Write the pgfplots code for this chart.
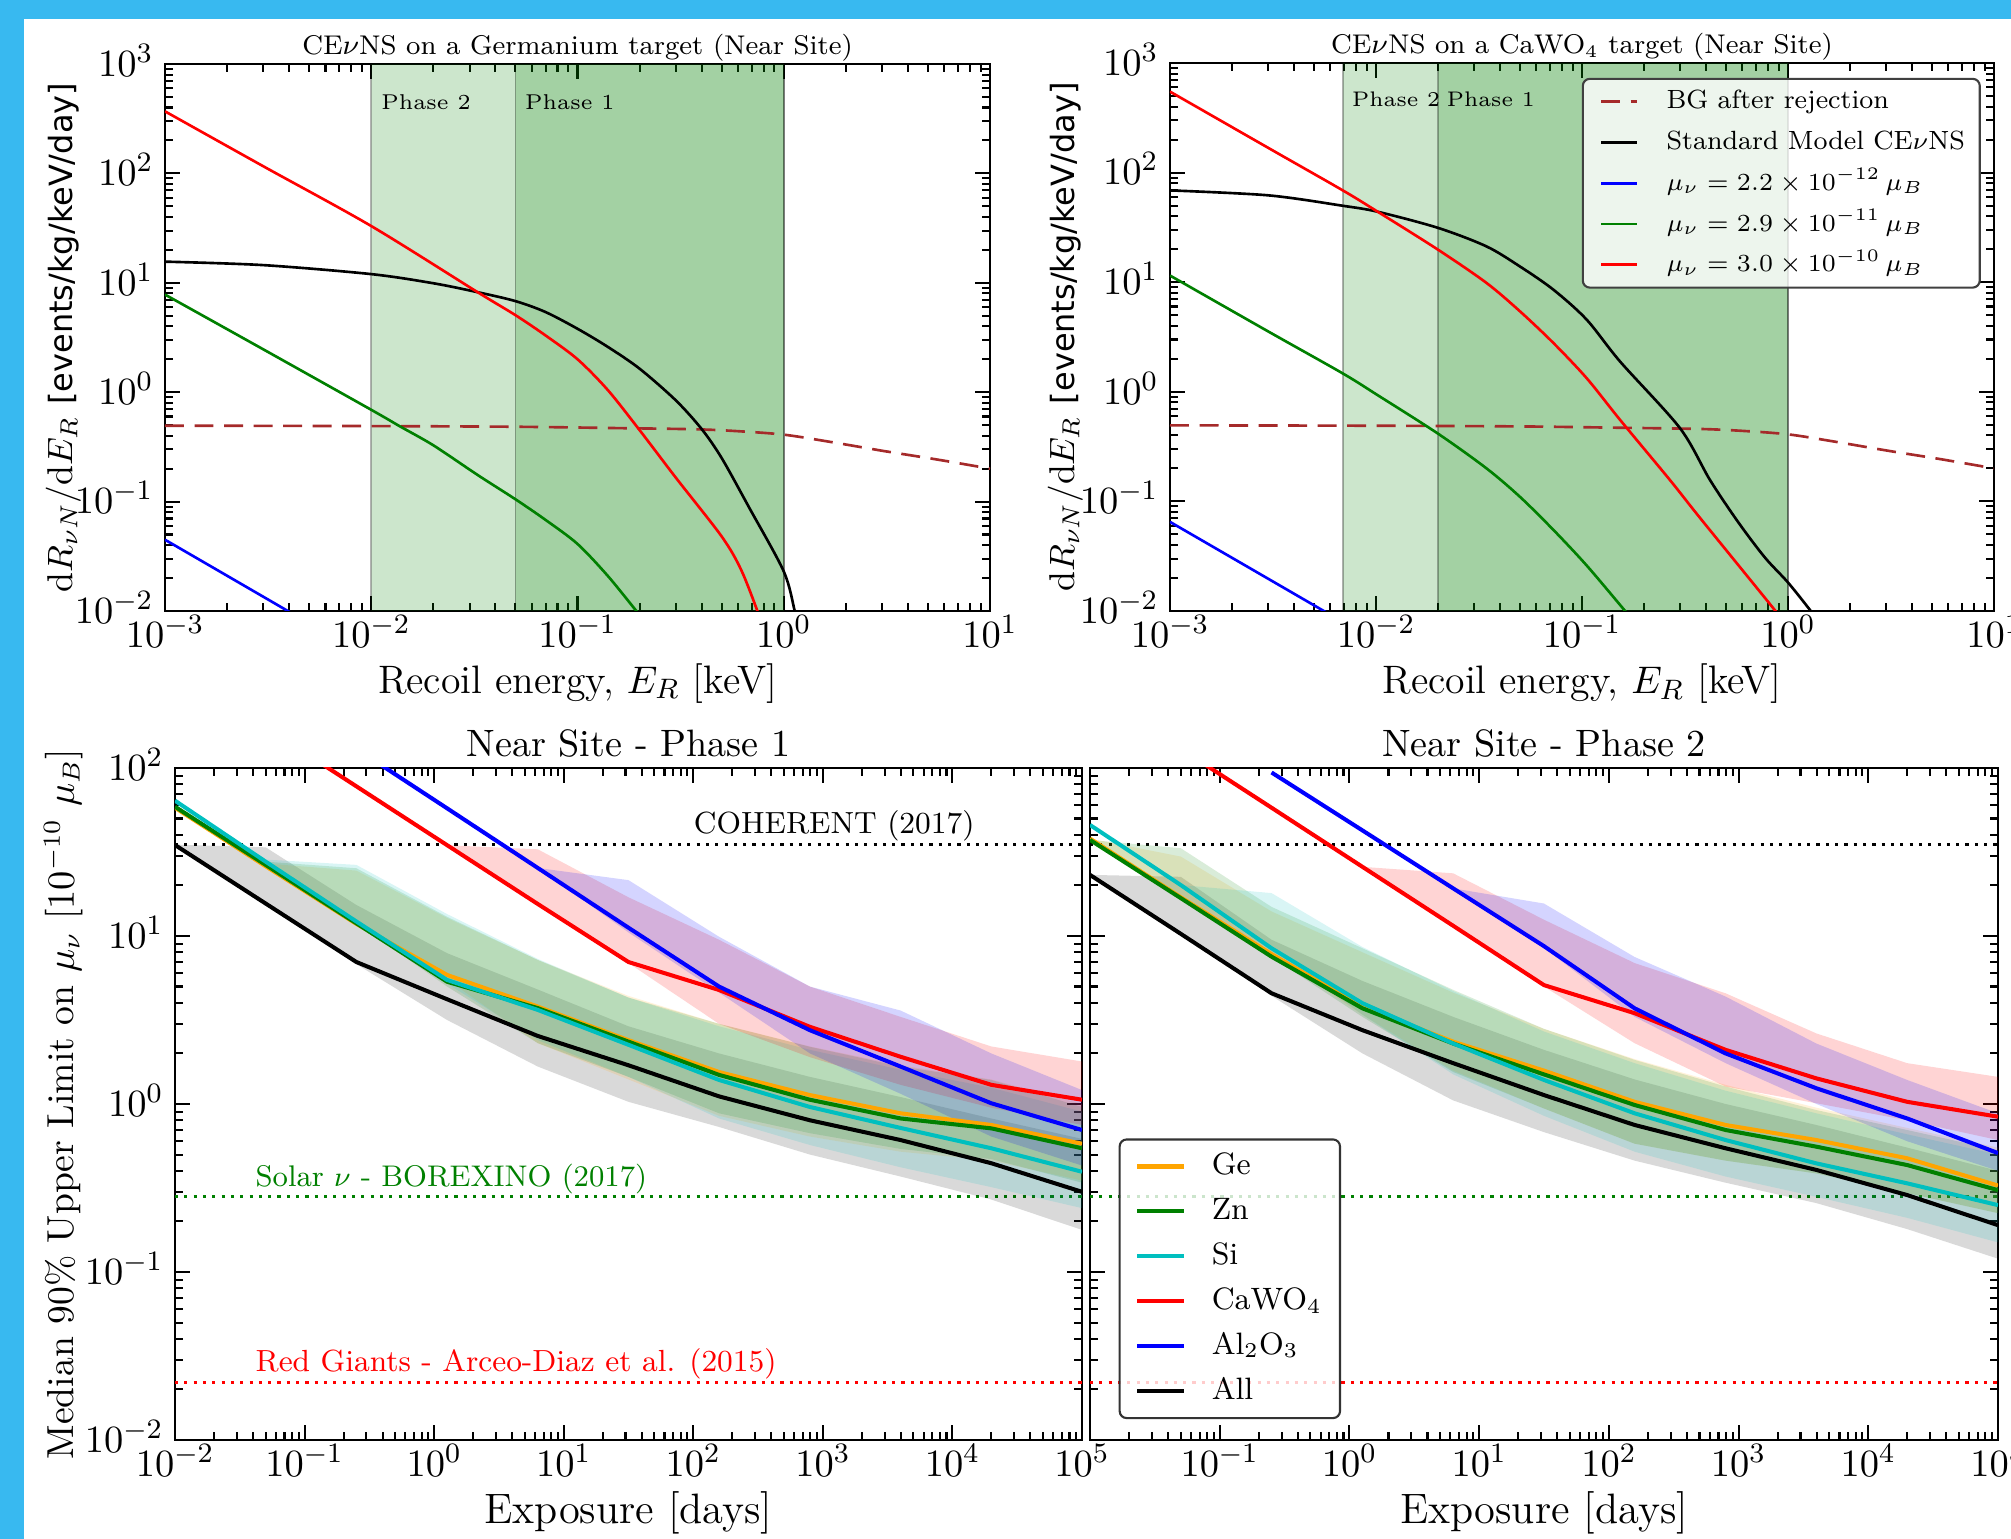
\documentclass[border=0pt]{standalone}
\usepackage{pgfplots}
\pgfplotsset{compat=1.18}
\usepackage{fontspec}
\newfontfamily\dejavu{DejaVu Sans}
\definecolor{bluebg}{RGB}{56,185,240}
\definecolor{bgbrown}{RGB}{165,42,42}
\definecolor{mplgreen}{RGB}{0,128,0}
\definecolor{mplorange}{RGB}{255,165,0}
\definecolor{mplcyan}{RGB}{0,191,191}
\begin{document}
\begin{tikzpicture}
\useasboundingbox (0,0) rectangle (20.11cm,15.39cm);
\clip (0,0) rectangle (20.11cm,15.39cm);
\fill[bluebg] (0,15.195cm) rectangle (20.11cm,15.39cm);
\fill[bluebg] (0,0) rectangle (0.235cm,15.39cm);

% ---------------- Top left: Germanium ----------------
\begin{axis}[xmode=log, ymode=log, scale only axis, anchor=south west,
  axis line style={line width=0.8pt},
  major tick length=4.3pt, minor tick length=2.3pt,
  tick style={black, line width=0.6pt},
  tick label style={font=\fontsize{11}{13}\selectfont, inner sep=0pt},
  xticklabel style={anchor=base, yshift=-10.5pt},
  yticklabel style={anchor=base east, xshift=-3.1pt, yshift=-3.5pt},
  label style={font=\fontsize{11.3}{13}\selectfont},
  at={(1.65cm,9.28cm)}, width=8.25cm, height=5.47cm,
  xmin=1e-3, xmax=10, ymin=1e-2, ymax=1e3,
  title={CE$\nu$NS on a Germanium target (Near Site)},
  title style={font=\fontsize{7.7}{9}\selectfont, at={(0.5,1.0183)}, anchor=base, yshift=-6.2pt},
  xlabel={Recoil energy, $E_R$ [keV]},
  xlabel style={at={(0.5,-0.15)}, anchor=base},
  ylabel={$\mathrm{d}R_{\nu N}/\mathrm{d}E_R$ {\dejavu\fontsize{9.1}{11}\selectfont [events/kg/keV/day]}},
  ylabel style={at={(-0.1127,0.5)}, anchor=base, font=\fontsize{10.2}{12}\selectfont},
]
\addplot[draw=black, draw opacity=0.3, line width=0.5pt, fill=mplgreen, fill opacity=0.2, forget plot] coordinates {(0.01,1e-2) (1,1e-2) (1,1e3) (0.01,1e3) (0.01,1e-2)};
\addplot[draw=black, draw opacity=0.3, line width=0.5pt, fill=mplgreen, fill opacity=0.2, forget plot] coordinates {(0.05,1e-2) (1,1e-2) (1,1e3) (0.05,1e3) (0.05,1e-2)};
\node[anchor=base west, inner sep=0pt, font=\fontsize{6.1}{8}\selectfont] at (axis cs:0.0111,385) {Phase 2};
\node[anchor=base west, inner sep=0pt, font=\fontsize{6.1}{8}\selectfont] at (axis cs:0.0553,385) {Phase 1};
\addplot[line width=0.75pt, smooth, bgbrown, dash pattern=on 5.4pt off 3pt] coordinates {
 (0.001,0.494) (0.01,0.49) (0.05,0.483) (0.15,0.47) (0.373,0.458) (0.6,0.44) (1,0.409) (1.67,0.352) (3.05,0.29) (5.56,0.242) (10,0.20)};
\addplot[line width=0.75pt, smooth, black] coordinates {
 (0.001,15.6) (0.003,14.5) (0.01,12.0) (0.02,9.9) (0.0328,8.2) (0.05,6.8) (0.07,5.4) (0.1,3.8) (0.14,2.6) (0.2,1.64) (0.3,0.84) (0.4,0.46) (0.5,0.25) (0.68,0.088) (1,0.023) (1.13,0.01) (1.2,0.006)};
\addplot[line width=0.75pt, smooth, blue] coordinates {(0.001,0.0448) (0.00394,0.01) (0.0045,0.0086)};
\addplot[line width=0.75pt, smooth, mplgreen] coordinates {
 (0.001,7.8) (0.003,2.46) (0.01,0.69) (0.0137,0.49) (0.02,0.327) (0.0328,0.175) (0.05,0.105) (0.07,0.068) (0.1,0.041) (0.14,0.021) (0.193,0.01) (0.2,0.0093)};
\addplot[line width=0.75pt, smooth, red] coordinates {
 (0.001,369) (0.003,116) (0.01,33) (0.0328,8.2) (0.05,5.06) (0.07,3.3) (0.1,2.0) (0.14,1.05) (0.2,0.45) (0.3,0.165) (0.5,0.048) (0.62,0.024) (0.745,0.01) (0.8,0.0065)};
\end{axis}

% ---------------- Top right: CaWO4 ----------------
\begin{axis}[xmode=log, ymode=log, scale only axis, anchor=south west,
  axis line style={line width=0.8pt},
  major tick length=4.3pt, minor tick length=2.3pt,
  tick style={black, line width=0.6pt},
  tick label style={font=\fontsize{11}{13}\selectfont, inner sep=0pt},
  xticklabel style={anchor=base, yshift=-10.5pt},
  yticklabel style={anchor=base east, xshift=-3.1pt, yshift=-3.5pt},
  label style={font=\fontsize{11.3}{13}\selectfont},
  at={(11.70cm,9.28cm)}, width=8.24cm, height=5.48cm,
  xmin=1e-3, xmax=10, ymin=1e-2, ymax=1e3,
  title={CE$\nu$NS on a CaWO$_4$ target (Near Site)},
  title style={font=\fontsize{7.7}{9}\selectfont, at={(0.5,1.0183)}, anchor=base, yshift=-6.2pt},
  xlabel={Recoil energy, $E_R$ [keV]},
  xlabel style={at={(0.5,-0.15)}, anchor=base},
  ylabel={$\mathrm{d}R_{\nu N}/\mathrm{d}E_R$ {\dejavu\fontsize{9.1}{11}\selectfont [events/kg/keV/day]}},
  ylabel style={at={(-0.1165,0.5)}, anchor=base, font=\fontsize{10.2}{12}\selectfont},
  legend style={at={(0.984,0.973)}, anchor=north east, font=\fontsize{7.5}{9}\selectfont,
    draw=black!75, line width=0.6pt, rounded corners=2pt, fill=white, fill opacity=0.8, text opacity=1,
    inner xsep=1.2pt, inner ysep=0.7pt, column sep=5pt,
    nodes={text height=6.3pt, text depth=2.3pt, inner ysep=1.5pt, inner xsep=3pt}},
  legend cell align=left,
  legend image code/.code={\draw[#1, line width=0.75pt, shorten <=3.65pt] (0cm,0cm) -- (0.488cm,0cm);},
]
\addplot[draw=black, draw opacity=0.3, line width=0.5pt, fill=mplgreen, fill opacity=0.2, forget plot] coordinates {(0.0069,1e-2) (1,1e-2) (1,1e3) (0.0069,1e3) (0.0069,1e-2)};
\addplot[draw=black, draw opacity=0.3, line width=0.5pt, fill=mplgreen, fill opacity=0.2, forget plot] coordinates {(0.02,1e-2) (1,1e-2) (1,1e3) (0.02,1e3) (0.02,1e-2)};
\node[anchor=base west, inner sep=0pt, font=\fontsize{6.0}{8}\selectfont] at (axis cs:0.0076,403) {Phase 2};
\node[anchor=base west, inner sep=0pt, font=\fontsize{6.0}{8}\selectfont] at (axis cs:0.0219,403) {Phase 1};
\addplot[line width=0.75pt, smooth, bgbrown, dash pattern=on 5.4pt off 3pt] coordinates {
 (0.001,0.494) (0.01,0.49) (0.05,0.483) (0.15,0.47) (0.373,0.458) (0.6,0.44) (1,0.409) (1.67,0.352) (3.05,0.29) (5.56,0.242) (10,0.20)};
\addlegendentry{BG after rejection}
\addplot[line width=0.75pt, smooth, black] coordinates {
 (0.001,68.8) (0.003,62) (0.0069,49.8) (0.0102,43.9) (0.02,31.3) (0.0344,21.2) (0.05,13.9) (0.0726,8.55) (0.1054,4.55) (0.153,1.89) (0.299,0.466) (0.418,0.157) (0.572,0.065) (0.772,0.0308) (1.0,0.0182) (1.29,0.01) (1.4,0.008)};
\addlegendentry{Standard Model CE$\nu$NS}
\addplot[line width=0.75pt, smooth, blue] coordinates {(0.001,0.065) (0.00558,0.01) (0.006,0.0092)};
\addlegendentry{$\mu_\nu = 2.2\times10^{-12}\,\mu_B$}
\addplot[line width=0.75pt, smooth, mplgreen] coordinates {
 (0.001,11.5) (0.003,3.55) (0.0069,1.47) (0.0102,0.93) (0.02,0.415) (0.0344,0.2) (0.05,0.11) (0.0726,0.055) (0.1054,0.026) (0.162,0.01) (0.17,0.009)};
\addlegendentry{$\mu_\nu = 2.9\times10^{-11}\,\mu_B$}
\addplot[line width=0.75pt, smooth, red] coordinates {
 (0.001,548) (0.003,168) (0.0069,68.8) (0.0102,43.9) (0.02,19.8) (0.0344,9.84) (0.05,5.42) (0.0726,2.79) (0.1054,1.33) (0.153,0.555) (0.267,0.157) (0.375,0.0703) (0.87,0.01) (0.95,0.008)};
\addlegendentry{$\mu_\nu = 3.0\times10^{-10}\,\mu_B$}
\end{axis}

% ---------------- Bottom left: Phase 1 ----------------
\begin{axis}[xmode=log, ymode=log, scale only axis, anchor=south west,
  axis line style={line width=0.8pt},
  major tick length=4.3pt, minor tick length=2.3pt,
  tick style={black, line width=0.6pt},
  tick label style={font=\fontsize{11}{13}\selectfont, inner sep=0pt},
  xticklabel style={anchor=base, yshift=-10.5pt},
  yticklabel style={anchor=base east, xshift=-3.1pt, yshift=-3.5pt},
  label style={font=\fontsize{12.1}{14}\selectfont},
  at={(1.75cm,0.99cm)}, width=9.07cm, height=6.72cm,
  xmin=1e-2, xmax=1e5, ymin=1e-2, ymax=1e2,
  title={Near Site - Phase 1},
  title style={font=\fontsize{10.85}{13}\selectfont, at={(0.5,1.018)}, anchor=base, yshift=-6.2pt},
  xlabel={Exposure [days]},
  xlabel style={at={(0.5,-0.125)}, anchor=base},
  ylabel={Median 90\% Upper Limit on $\mu_\nu$ [$10^{-10}$ $\mu_B$]},
  ylabel style={at={(-0.1114,0.5)}, anchor=base, font=\fontsize{10.7}{13}\selectfont},
]
\addplot[line width=0.9pt, dash pattern=on 0.9pt off 1.75pt, forget plot, black] coordinates {(1e-2,35) (1e5,35)};
\addplot[line width=0.9pt, dash pattern=on 0.9pt off 1.75pt, forget plot, mplgreen] coordinates {(1e-2,0.28) (1e5,0.28)};
\addplot[line width=0.9pt, dash pattern=on 0.9pt off 1.75pt, forget plot, red] coordinates {(1e-2,0.022) (1e5,0.022)};
\node[anchor=base west, inner sep=0pt, font=\fontsize{8.7}{10}\selectfont] at (axis cs:100,40.5) {COHERENT (2017)};
\node[anchor=base west, inner sep=0pt, font=\fontsize{8.5}{10}\selectfont, text=mplgreen] at (axis cs:0.0414,0.322) {Solar $\nu$ - BOREXINO (2017)};
\node[anchor=base west, inner sep=0pt, font=\fontsize{8.7}{10}\selectfont, text=red] at (axis cs:0.0414,0.0255) {Red Giants - Arceo-Diaz et al. (2015)};
% bands
\addplot[draw=none, forget plot, fill=black, fill opacity=0.15] coordinates {
 (0.01,35) (0.0501,33.7) (0.251,15.3) (1.26,7.9) (6.31,4.8) (31.6,2.9) (158,2.0) (794,1.45) (3981,1.1) (19953,0.82) (100000,0.62)
 (100000,0.178) (19953,0.27) (3981,0.37) (794,0.50) (158,0.73) (31.6,1.03) (6.31,1.67) (1.26,3.16) (0.251,6.8) (0.0501,15.6) (0.01,34.8)};
\addplot[draw=none, forget plot, fill=mplorange, fill opacity=0.15] coordinates {
 (0.01,58.0) (0.0501,27.0) (0.251,24.5) (1.26,12.8) (6.31,7.2) (31.6,4.4) (158,3.0) (794,2.2) (3981,1.7) (19953,1.4) (100000,1.0)
 (100000,0.35) (19953,0.46) (3981,0.52) (794,0.64) (158,0.85) (31.6,1.4) (6.31,2.3) (1.26,5.5) (0.251,11.8) (0.0501,26.0) (0.01,58.0)};
\addplot[draw=none, forget plot, fill=mplgreen, fill opacity=0.15] coordinates {
 (0.01,58.8) (0.0501,27.7) (0.251,25.3) (1.26,13.0) (6.31,7.2) (31.6,4.3) (158,3.0) (794,2.19) (3981,1.67) (19953,1.39) (100000,0.96)
 (100000,0.34) (19953,0.47) (3981,0.54) (794,0.67) (158,0.88) (31.6,1.45) (6.31,2.3) (1.26,5.0) (0.251,11.9) (0.0501,26.5) (0.01,58.8)};
\addplot[draw=none, forget plot, fill=mplcyan, fill opacity=0.15] coordinates {
 (0.01,63.9) (0.0501,28.5) (0.251,26.5) (1.26,13.5) (6.31,7.3) (31.6,4.3) (158,2.9) (794,2.1) (3981,1.6) (19953,1.25) (100000,0.9)
 (100000,0.24) (19953,0.32) (3981,0.42) (794,0.57) (158,0.82) (31.6,1.45) (6.31,2.4) (1.26,5.2) (0.251,12.2) (0.0501,27.7) (0.01,63.9)};
\addplot[draw=none, forget plot, fill=red, fill opacity=0.17] coordinates {
 (1.26,34.7) (6.31,32.8) (31.6,17) (158,9.5) (794,5.0) (3981,3.3) (19953,2.2) (100000,1.79)
 (100000,0.75) (19953,0.95) (3981,1.3) (794,1.9) (158,3.0) (31.6,6.9) (6.31,15.5) (1.26,34.7)};
\addplot[draw=none, forget plot, fill=blue, fill opacity=0.17] coordinates {
 (6.31,25.4) (31.6,21.5) (158,9.9) (794,5.0) (3981,3.6) (19953,2.0) (100000,1.21)
 (100000,0.43) (19953,0.64) (3981,1.15) (794,2.0) (158,4.6) (31.6,10.5) (6.31,25.4)};
% medians
\addplot[line width=1.15pt, mplorange] coordinates {(0.01,58.0) (0.0501,26.0) (0.251,11.8) (1.26,5.86) (6.31,3.80) (31.6,2.40) (158,1.55) (794,1.13) (3981,0.88) (19953,0.75) (100000,0.58)};
\addplot[line width=1.15pt, mplgreen] coordinates {(0.01,58.8) (0.0501,26.5) (0.251,11.9) (1.26,5.34) (6.31,3.72) (31.6,2.35) (158,1.49) (794,1.06) (3981,0.82) (19953,0.716) (100000,0.545)};
\addplot[line width=1.15pt, mplcyan] coordinates {(0.01,63.9) (0.0501,27.7) (0.251,12.2) (1.26,5.47) (6.31,3.63) (31.6,2.25) (158,1.39) (794,0.96) (3981,0.72) (19953,0.545) (100000,0.395)};
\addplot[line width=1.15pt, red] coordinates {(0.0501,174) (0.251,77.8) (1.26,34.7) (6.31,15.5) (31.6,7.0) (158,4.77) (794,2.88) (3981,1.91) (19953,1.30) (100000,1.06)};
\addplot[line width=1.15pt, blue] coordinates {(0.251,130) (1.26,57.5) (6.31,25.4) (31.6,11.2) (158,5.0) (794,2.75) (3981,1.67) (19953,1.01) (100000,0.70)};
\addplot[line width=1.15pt, black] coordinates {(0.01,34.8) (0.0501,15.6) (0.251,7.0) (1.26,4.2) (6.31,2.54) (31.6,1.70) (158,1.11) (794,0.80) (3981,0.61) (19953,0.444) (100000,0.30)};
\end{axis}

% ---------------- Bottom right: Phase 2 ----------------
\begin{axis}[xmode=log, ymode=log, scale only axis, anchor=south west,
  axis line style={line width=0.8pt},
  major tick length=4.3pt, minor tick length=2.3pt,
  tick style={black, line width=0.6pt},
  tick label style={font=\fontsize{11}{13}\selectfont, inner sep=0pt},
  xticklabel style={anchor=base, yshift=-10.5pt},
  yticklabel style={anchor=base east, xshift=-3.1pt, yshift=-3.5pt},
  label style={font=\fontsize{12.1}{14}\selectfont},
  at={(10.90cm,0.99cm)}, width=9.08cm, height=6.72cm,
  xmin=1e-2, xmax=1e5, ymin=1e-2, ymax=1e2,
  title={Near Site - Phase 2},
  title style={font=\fontsize{10.85}{13}\selectfont, at={(0.5,1.018)}, anchor=base, yshift=-6.2pt},
  xlabel={Exposure [days]},
  xlabel style={at={(0.5,-0.125)}, anchor=base},
  yticklabels={},
  xtick={1e-2,1e-1,1,10,100,1000,10000,100000},
  xticklabels={{},$10^{-1}$,$10^{0}$,$10^{1}$,$10^{2}$,$10^{3}$,$10^{4}$,$10^{5}$},
  legend style={at={(0.0315,0.031)}, anchor=south west, font=\fontsize{8.8}{11}\selectfont,
    draw=black!80, line width=0.6pt, rounded corners=2pt, fill=white, fill opacity=0.8, text opacity=1,
    inner xsep=1.7pt, inner ysep=1.3pt, column sep=3.7pt,
    nodes={text height=7pt, text depth=2.3pt, inner ysep=1.74pt, inner xsep=3.5pt}},
  legend cell align=left,
  legend image code/.code={\draw[#1, line width=1.15pt, shorten <=2.8pt] (0cm,0cm) -- (0.568cm,0cm);},
]
\addplot[line width=0.9pt, dash pattern=on 0.9pt off 1.75pt, forget plot, black] coordinates {(1e-2,35) (1e5,35)};
\addplot[line width=0.9pt, dash pattern=on 0.9pt off 1.75pt, forget plot, mplgreen] coordinates {(1e-2,0.28) (1e5,0.28)};
\addplot[line width=0.9pt, dash pattern=on 0.9pt off 1.75pt, forget plot, red] coordinates {(1e-2,0.022) (1e5,0.022)};
% bands
\addplot[draw=none, forget plot, fill=black, fill opacity=0.15] coordinates {
 (0.01,23.1) (0.0501,22.5) (0.251,9.5) (1.26,5.4) (6.31,3.3) (31.6,2.1) (158,1.4) (794,1.0) (3981,0.75) (19953,0.55) (100000,0.40)
 (100000,0.12) (19953,0.18) (3981,0.257) (794,0.34) (158,0.46) (31.6,0.68) (6.31,1.05) (1.26,2.0) (0.251,4.4) (0.0501,10.3) (0.01,23.1)};
\addplot[draw=none, forget plot, fill=mplorange, fill opacity=0.15] coordinates {
 (0.01,38) (0.0501,29.7) (0.251,14) (1.26,8.0) (6.31,4.6) (31.6,2.8) (158,1.85) (794,1.3) (3981,0.95) (19953,0.72) (100000,0.55)
 (100000,0.224) (19953,0.295) (3981,0.386) (794,0.46) (158,0.58) (31.6,0.94) (6.31,1.58) (1.26,3.4) (0.251,7.8) (0.0501,17) (0.01,38)};
\addplot[draw=none, forget plot, fill=mplgreen, fill opacity=0.15] coordinates {
 (0.01,37.3) (0.0501,33.3) (0.251,14.9) (1.26,8.45) (6.31,4.78) (31.6,2.8) (158,1.83) (794,1.27) (3981,0.92) (19953,0.70) (100000,0.53)
 (100000,0.224) (19953,0.295) (3981,0.386) (794,0.46) (158,0.58) (31.6,0.94) (6.31,1.55) (1.26,3.3) (0.251,7.5) (0.0501,16.8) (0.01,37.3)};
\addplot[draw=none, forget plot, fill=mplcyan, fill opacity=0.15] coordinates {
 (0.01,45.8) (0.0501,20.1) (0.251,18) (1.26,8.6) (6.31,4.7) (31.6,2.7) (158,1.75) (794,1.2) (3981,0.88) (19953,0.66) (100000,0.5)
 (100000,0.15) (19953,0.21) (3981,0.28) (794,0.37) (158,0.52) (31.6,0.85) (6.31,1.5) (1.26,3.4) (0.251,8.45) (0.0501,20.1) (0.01,45.8)};
\addplot[draw=none, forget plot, fill=red, fill opacity=0.17] coordinates {
 (1.26,25.8) (6.31,23.6) (31.6,12.5) (158,6.9) (794,4.56) (3981,2.63) (19953,1.75) (100000,1.45)
 (100000,0.61) (19953,0.80) (3981,1.01) (794,1.27) (158,2.3) (31.6,5.0) (6.31,11.5) (1.26,25.8)};
\addplot[draw=none, forget plot, fill=blue, fill opacity=0.17] coordinates {
 (6.31,19.2) (31.6,15.6) (158,7.5) (794,4.36) (3981,2.29) (19953,1.39) (100000,0.88)
 (100000,0.4) (19953,0.6) (3981,1.0) (794,1.75) (158,3.3) (31.6,8.5) (6.31,19.2)};
% medians
\addplot[line width=1.15pt, mplorange] coordinates {(0.01,38.0) (0.0501,17.0) (0.251,7.8) (1.26,3.8) (6.31,2.35) (31.6,1.58) (158,1.03) (794,0.75) (3981,0.61) (19953,0.475) (100000,0.327)};
\addlegendentry{Ge}
\addplot[line width=1.15pt, mplgreen] coordinates {(0.01,37.3) (0.0501,16.8) (0.251,7.53) (1.26,3.71) (6.31,2.29) (31.6,1.50) (158,0.986) (794,0.70) (3981,0.557) (19953,0.433) (100000,0.307)};
\addlegendentry{Zn}
\addplot[line width=1.15pt, mplcyan] coordinates {(0.01,45.8) (0.0501,20.1) (0.251,8.45) (1.26,3.98) (6.31,2.29) (31.6,1.39) (158,0.88) (794,0.61) (3981,0.443) (19953,0.337) (100000,0.25)};
\addlegendentry{Si}
\addplot[line width=1.15pt, red] coordinates {(0.0501,130) (0.251,58) (1.26,25.8) (6.31,11.5) (31.6,5.1) (158,3.47) (794,2.1) (3981,1.42) (19953,1.03) (100000,0.84)};
\addlegendentry{CaWO$_4$}
\addplot[line width=1.15pt, blue] coordinates {(0.251,94) (1.26,42.5) (6.31,19.2) (31.6,8.7) (158,3.71) (794,2.0) (3981,1.24) (19953,0.82) (100000,0.51)};
\addlegendentry{Al$_2$O$_3$}
\addplot[line width=1.15pt, black] coordinates {(0.01,23.1) (0.0501,10.3) (0.251,4.56) (1.26,2.75) (6.31,1.75) (31.6,1.13) (158,0.75) (794,0.545) (3981,0.405) (19953,0.287) (100000,0.19)};
\addlegendentry{All}
\end{axis}
\end{tikzpicture}
\end{document}
